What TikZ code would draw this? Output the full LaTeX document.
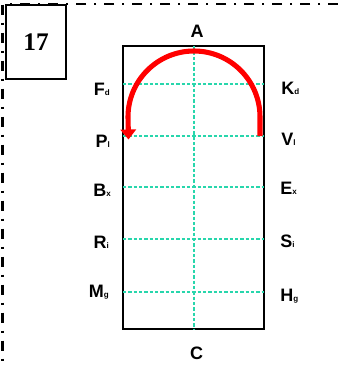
\documentclass[tikz,border=0pt]{standalone}
\usepackage{fontspec}
\setmainfont{Liberation Sans}
\newfontfamily\serifnum{Liberation Serif}
\usetikzlibrary{arrows.meta}
\definecolor{gridc}{RGB}{40,214,172}
\tikzset{
  lab/.style={font=\fontsize{13.5}{15}\selectfont\bfseries, inner sep=0pt},
  labL/.style={lab, anchor=base east},
  labR/.style={lab, anchor=base west},
  gridline/.style={draw=gridc, line width=1pt, dash pattern=on 2.4pt off 1.6pt},
  frameline/.style={line width=1.5pt, dash pattern=on 7.5pt off 6pt on 1.5pt off 6pt},
  redarc/.style={draw=red, line width=3.8pt, -{Triangle[width=11.5pt,length=7.5pt]}}
}
\newcommand{\sbs}[1]{\raisebox{-0.2pt}{\fontsize{6}{7}\selectfont #1}}
\begin{document}
\begin{tikzpicture}[x=0.75pt,y=-0.75pt]
\useasboundingbox (0,0) rectangle (338,365);
% outer dash-dot frame
\coordinate (ftl) at (2.5,4);
\coordinate (ftr) at (338,4);
\coordinate (fbl) at (2.5,365);
\draw[frameline] (ftr) -- (ftl) -- (fbl);
% number box
\node[draw, line width=1.5pt, minimum width=45pt, minimum height=55.5pt, inner sep=0pt,
      font=\serifnum\fontsize{19}{21}\selectfont\bfseries, fill=white] (num) at (36,42) {17};
% main rectangle
\node[draw, line width=0.8pt, minimum width=105.75pt, minimum height=212.25pt, inner sep=0pt] (rect) at (193.5,187.5) {};
% grid lines
\foreach \y/\n in {84/1,136/2,187/3,239/4,292/5}{
  \coordinate (gl\n) at (123,\y);
  \coordinate (gr\n) at (264,\y);
  \draw[gridline] (gl\n) -- (gr\n);
}
\coordinate (vt) at (194,46);
\coordinate (vb) at (194,329);
\draw[gridline] (vt) -- (vb);
% top/bottom labels
\node[lab] (A) at (197,31) {A};
\node[lab] (C) at (196.5,353) {C};
% left labels
\node[labL] (F) at (110,95) {F\sbs{d}};
\node[labL] (P) at (110,147) {P\sbs{l}};
\node[labL] (B) at (111,196) {B\sbs{x}};
\node[labL] (R) at (109,248) {R\sbs{i}};
\node[labL] (M) at (109,297) {M\sbs{g}};
% right labels
\node[labR] (K) at (281,94) {K\sbs{d}};
\node[labR] (V) at (281,145) {V\sbs{l}};
\node[labR] (E) at (280,194) {E\sbs{x}};
\node[labR] (S) at (280,247) {S\sbs{i}};
\node[labR] (H) at (280,301) {H\sbs{g}};
% red arc arrow
\coordinate (as) at (260,136);
\coordinate (ae) at (128.5,139.5);
\draw[redarc] (as) -- (260,117) arc[start angle=0, end angle=-180, radius=66] -- (ae);
\end{tikzpicture}
\end{document}
